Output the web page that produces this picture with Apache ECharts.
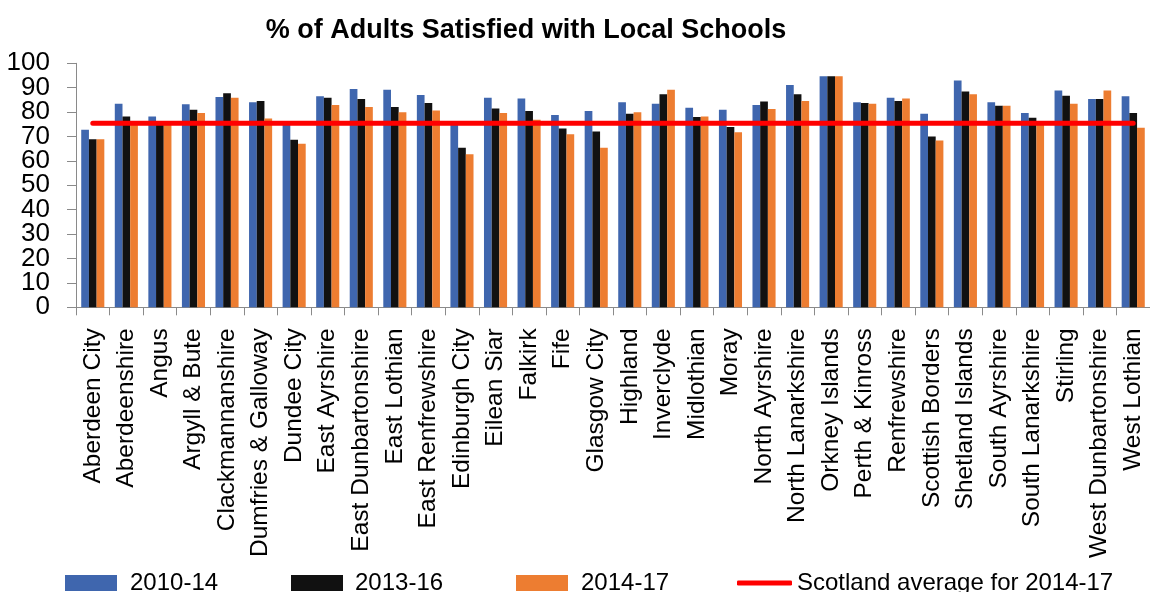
<!DOCTYPE html>
<html>
<head>
<meta charset="utf-8">
<script src="https://cdn.jsdelivr.net/npm/echarts@6/dist/echarts.min.js"></script>
<style>
  html, body { margin: 0; padding: 0; background: #fff; }
  #chart { width: 1150px; height: 592px; }
</style>
</head>
<body>
<div id="chart"></div>
<script>
// Council areas along the x axis
const categories = [
  "Aberdeen City", "Aberdeenshire", "Angus", "Argyll & Bute", "Clackmannanshire",
  "Dumfries & Galloway", "Dundee City", "East Ayrshire", "East Dunbartonshire",
  "East Lothian", "East Renfrewshire", "Edinburgh City", "Eilean Siar", "Falkirk",
  "Fife", "Glasgow City", "Highland", "Inverclyde", "Midlothian", "Moray",
  "North Ayrshire", "North Lanarkshire", "Orkney Islands", "Perth & Kinross",
  "Renfrewshire", "Scottish Borders", "Shetland Islands", "South Ayrshire",
  "South Lanarkshire", "Stirling", "West Dunbartonshire", "West Lothian"
];

// % of adults satisfied with local schools, by period
const values2010_14 = [72.8, 83.4, 78.2, 83.2, 86.2, 84.0, 75.0, 86.5, 89.5, 89.2, 87.0, 75.0, 85.9, 85.6, 78.8, 80.4,
                       84.0, 83.4, 81.8, 81.0, 82.9, 91.1, 94.7, 84.0, 85.9, 79.3, 93.0, 84.0, 79.6, 88.9, 85.4, 86.5];
const values2013_16 = [68.9, 78.2, 75.0, 81.0, 87.7, 84.5, 68.7, 85.9, 85.4, 82.1, 83.7, 65.4, 81.5, 80.4, 73.3, 72.0,
                       79.3, 87.3, 78.0, 73.9, 84.3, 87.3, 94.7, 83.7, 84.5, 70.0, 88.4, 82.6, 77.7, 86.7, 85.4, 79.6];
const values2014_17 = [68.9, 75.5, 75.0, 79.6, 85.9, 77.4, 67.0, 82.9, 82.1, 79.9, 80.7, 62.7, 79.6, 76.9, 70.9, 65.4,
                       79.9, 89.2, 78.2, 71.7, 81.3, 84.5, 94.7, 83.4, 85.6, 68.4, 87.3, 82.6, 75.0, 83.4, 88.9, 73.6];

// Scotland-wide average for 2014-17
const scotlandAverage = 75.4;

// Y axis ticks
const yMin = 0, yMax = 100, yStep = 10;

const FONT = "'Liberation Sans Narrow', 'Liberation Sans', Arial, sans-serif";
const COLORS = { blue: '#3f66ae', black: '#111111', orange: '#ed7d31', red: '#ff0000', axis: '#8a8a8a' };

const chart = echarts.init(document.getElementById('chart'), null, { renderer: 'canvas' });

function legendBlock(name, left, iconW, iconH, icon, pad) {
  return {
    data: [{ name: name, icon: icon }],
    left: left,
    top: 571,
    itemWidth: iconW,
    itemHeight: iconH,
    itemGap: 0,
    padding: 0,
    selectedMode: false,
    textStyle: { fontFamily: FONT, fontSize: 24, color: '#000', padding: [0, 0, 0, pad] }
  };
}

// The tick labels are tall relative to their spacing, so they are split across two
// overlaid value axes (even and odd tens) to keep every one of them visible.
function valueAxis(showLine, parity) {
  return {
    type: 'value',
    min: yMin, max: yMax, interval: yStep,
    position: 'left',
    splitLine: { show: false },
    axisLine: { show: showLine, lineStyle: { color: COLORS.axis, width: 1 } },
    axisTick: { show: showLine, length: 9, lineStyle: { color: COLORS.axis } },
    axisLabel: {
      margin: 26, showMinLabel: true, showMaxLabel: true,
      fontFamily: FONT, fontSize: 26, color: '#000',
      formatter: v => (Math.round(v / yStep) % 2 === parity ? String(v) : '')
    }
  };
}

const barBase = { type: 'bar', barWidth: 7.7, barGap: '0%' };

chart.setOption({
  animation: false,
  backgroundColor: '#fff',
  title: {
    text: '% of Adults Satisfied with Local Schools',
    left: 521,
    textAlign: 'center',
    top: 12,
    textStyle: { fontFamily: FONT, fontWeight: 'bold', fontSize: 27, color: '#000' }
  },
  legend: [
    legendBlock('2010-14', 65, 52, 16, 'rect', 8),
    legendBlock('2013-16', 291, 52, 16, 'rect', 7),
    legendBlock('2014-17', 516, 52, 16, 'rect', 8),
    legendBlock('Scotland average for 2014-17', 737, 55, 5, 'roundRect', 0)
  ],
  grid: { left: 76, top: 63.3, width: 1075, height: 244, containLabel: false },
  xAxis: {
    type: 'category',
    data: categories,
    axisLine: { lineStyle: { color: COLORS.axis, width: 1 } },
    axisTick: { show: true, length: 8, alignWithLabel: false, lineStyle: { color: COLORS.axis } },
    axisLabel: {
      interval: 0, rotate: 90, margin: 21,
      fontFamily: FONT, fontSize: 24.5, color: '#000'
    }
  },
  yAxis: [valueAxis(true, 0), valueAxis(false, 1)],
  series: [
    Object.assign({ name: '2010-14', data: values2010_14, itemStyle: { color: COLORS.blue } }, barBase),
    Object.assign({ name: '2013-16', data: values2013_16, itemStyle: { color: COLORS.black } }, barBase),
    Object.assign({ name: '2014-17', data: values2014_17, itemStyle: { color: COLORS.orange } }, barBase),
    {
      name: 'Scotland average for 2014-17',
      type: 'line',
      data: categories.map(() => scotlandAverage),
      symbol: 'none',
      lineStyle: { color: COLORS.red, width: 5, cap: 'round' },
      itemStyle: { color: COLORS.red },
      z: 5
    }
  ]
});
</script>
</body>
</html>
